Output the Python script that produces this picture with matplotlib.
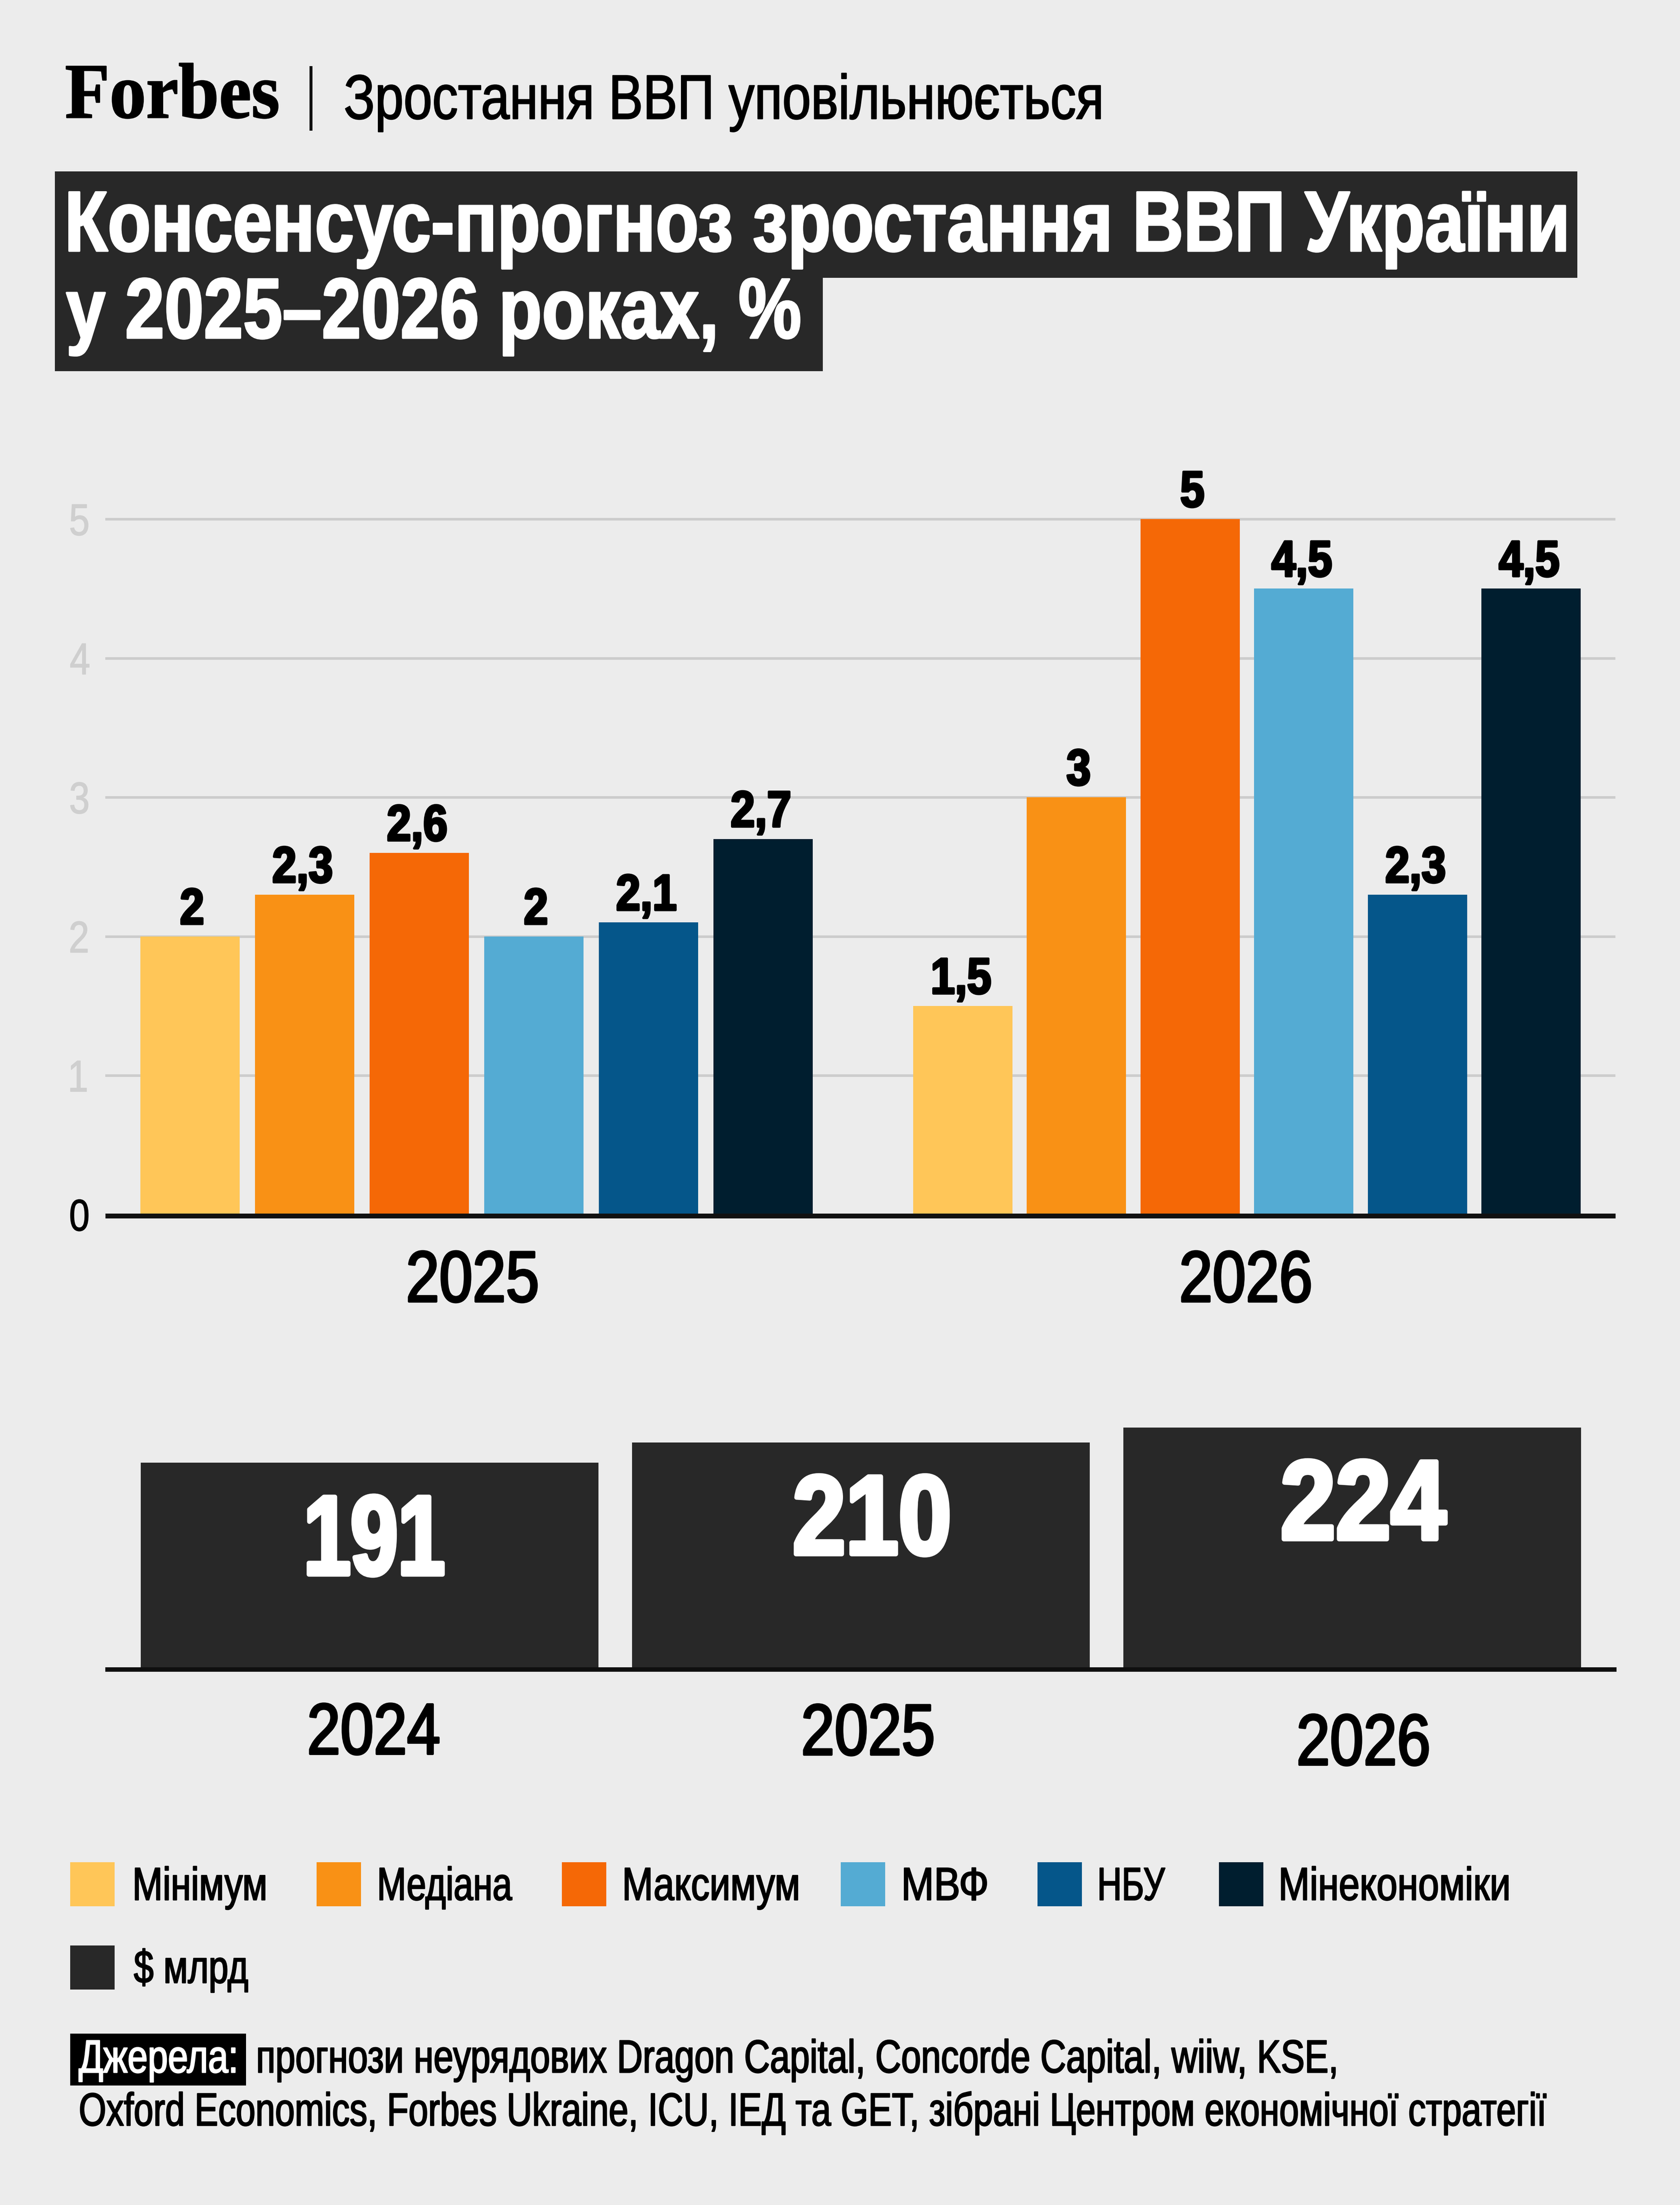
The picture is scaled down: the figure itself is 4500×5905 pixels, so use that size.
#!/usr/bin/env python3
import numpy as np
import matplotlib
matplotlib.use("Agg")
import matplotlib.pyplot as plt
from matplotlib.font_manager import FontProperties
from matplotlib.patches import Rectangle
from matplotlib.textpath import TextPath
from matplotlib.transforms import Affine2D
import matplotlib.patheffects as pe

W, H = 4500, 5905
DPI = 300
plt.rcParams["font.family"] = ["Liberation Sans"]

BG = "#ececec"
DARK = "#282828"

# data
groups = ["2025", "2026"]
series = ["Мінімум", "Медіана", "Максимум", "МВФ", "НБУ", "Мінекономіки"]
colors = ["#ffc658", "#f99115", "#f56806", "#54abd3", "#05568a", "#001e2f"]
growth_2025 = [2, 2.3, 2.6, 2, 2.1, 2.7]
growth_2026 = [1.5, 3, 5, 4.5, 2.3, 4.5]
gdp_years = ["2024", "2025", "2026"]
gdp_values = [191, 210, 224]
yticks = [0, 1, 2, 3, 4, 5]


def pt(px):
    # pixels of the final image to points
    return px * 72 / DPI


class Narrow(pe.AbstractPathEffect):
    # no condensed face is installed, so reshape the glyphs of the text
    def __init__(self, sx=None, width=None, anchor=0.0, stroke=0.0, sy=1.0):
        super().__init__()
        self.sx, self.width, self.anchor, self.stroke, self.sy = sx, width, anchor, stroke, sy

    def draw_path(self, renderer, gc, tpath, affine, rgbFace=None):
        ext = tpath.get_extents()
        sx = self.sx
        if self.width is not None:
            sx = (self.width - self.stroke) / tpath.get_extents(affine).width
        cx = ext.x0 + self.anchor * ext.width
        # left aligned text: the ink itself starts at the text position
        to = cx if self.anchor else 0
        squeeze = Affine2D().translate(-cx, 0).scale(sx, self.sy).translate(to, 0)
        gc0 = renderer.new_gc()
        gc0.copy_properties(gc)
        if self.stroke:
            gc0.set_foreground(rgbFace)
            gc0.set_linewidth(pt(self.stroke))
        renderer.draw_path(gc0, tpath, squeeze + affine, rgbFace)
        gc0.restore()


def comma(v):
    return f"{v:g}".replace(".", ",")


def axes_px(left, right, top, bottom):
    return fig.add_axes([left / W, 1 - bottom / H, (right - left) / W, (bottom - top) / H])


fig = plt.figure(figsize=(W / DPI, H / DPI), dpi=DPI, facecolor=BG)

# upper chart
y0, unit = 3252.5, 372.5
ax = axes_px(282, 4327, y0 - 5.5 * unit, y0)
ax.set_facecolor("none")
ax.set_ylim(0, 5.5)
centre_step = 2064.0
ax.set_xlim((282 - 1276) / centre_step, (4327 - 1276) / centre_step)
bar_w = 266 / centre_step
steps = [307 / centre_step, 304.5 / centre_step]
for g, vals in enumerate([growth_2025, growth_2026]):
    xs = g + (np.arange(6) - 2.5) * steps[g]
    ax.bar(xs, vals, width=bar_w, color=colors, linewidth=0)
    for x, v in zip(xs, vals):
        s = comma(v)
        ax.annotate(s, xy=(x, v), xytext=(pt(-5 if "," in s else 6), pt(33)), textcoords="offset points",
                    ha="center", va="baseline", fontsize=pt(136), fontweight="bold", color="black",
                    path_effects=[Narrow(sx=0.86, anchor=0.5, stroke=6)])

ax.set_axisbelow(True)
ax.yaxis.grid(True, color="#cccccc", linewidth=pt(7))
ax.xaxis.grid(False)
for s in ["top", "left", "right"]:
    ax.spines[s].set_visible(False)
ax.spines["bottom"].set_color("#111111")
ax.spines["bottom"].set_linewidth(pt(13))
ax.spines["bottom"].set_capstyle("butt")
ax.spines["bottom"].set_position(("outward", pt(3)))
ax.set_yticks(yticks, [str(t) for t in yticks])
ax.tick_params(axis="y", length=0, pad=pt(93), labelsize=pt(119), labelcolor="#cfcfcf")
for lab in ax.get_yticklabels():
    lab.set_ha("left")
    lab.set_path_effects([Narrow(sx=0.83, stroke=2)])
ax.get_yticklabels()[0].set_color("black")
ax.set_xticks([-0.005, -0.0015 + 1], groups)
ax.tick_params(axis="x", length=0, pad=pt(90), labelsize=pt(193), labelcolor="black")
for lab in ax.get_xticklabels():
    lab.set_path_effects([Narrow(width=348, anchor=0.5, stroke=6)])

# lower chart
y1, unit2 = 4465, 2.867
ax2 = axes_px(282, 4330, y1 - 260 * unit2, y1)
ax2.set_facecolor("none")
ax2.set_ylim(0, 260)
gdp_step = 1316.0
ax2.set_xlim((282 - 990) / gdp_step, (4330 - 990) / gdp_step)
xg = np.arange(len(gdp_values))
ax2.bar(xg, gdp_values, width=1226 / gdp_step, color=DARK, linewidth=0)
label_dx = [11, 30, 29]
label_w = [370, 418, 445]
for x, v, dx, lw in zip(xg, gdp_values, label_dx, label_w):
    ax2.annotate(str(v), xy=(x, v), xytext=(pt(dx), -pt(299)), textcoords="offset points",
                 ha="center", va="baseline", fontsize=pt(302), fontweight="bold", color="white",
                 path_effects=[Narrow(width=lw, anchor=0.5, stroke=12)])
for s in ["top", "left", "right"]:
    ax2.spines[s].set_visible(False)
ax2.yaxis.set_visible(False)
ax2.spines["bottom"].set_color("#0f0f0f")
ax2.spines["bottom"].set_linewidth(pt(12))
ax2.spines["bottom"].set_capstyle("butt")
ax2.spines["bottom"].set_position(("outward", pt(6)))
ax2.set_xticks(xg + np.array([0.008, 0.0144, 0.0228]), gdp_years)
ax2.tick_params(axis="x", length=0, labelsize=pt(193), labelcolor="black")
for tick, pad in zip(ax2.xaxis.get_major_ticks(), [86, 88, 115]):
    tick.set_pad(pt(pad))
    tick.label1.set_path_effects([Narrow(width=350, anchor=0.5, stroke=6)])

# everything outside the charts, in image pixels
ov = fig.add_axes([0, 0, 1, 1], zorder=5)
ov.set_xlim(0, W)
ov.set_ylim(H, 0)
ov.axis("off")


def box(x0, y0_, x1, y1_, color):
    ov.add_patch(Rectangle((x0, y0_), x1 - x0, y1_ - y0_, facecolor=color, edgecolor="none"))


def label(x, y, s, size, width, stroke=3, family="Liberation Sans", fontweight="normal", **kw):
    # pick the font size that gives the wanted width, then stretch up to the wanted height
    prop = FontProperties(family=family, weight=fontweight)
    ink = TextPath((0, 0), s, size=size, prop=prop).get_extents().width
    k = (width - stroke) / ink
    ov.text(x + stroke / 2, y, s, fontsize=pt(size * k), va="baseline", ha="left", family=family,
            fontweight=fontweight, path_effects=[Narrow(width=width, stroke=stroke, sy=1 / k)], **kw)


# header
label(176, 315, "Forbes", 210, 570, stroke=3, family="Liberation Serif", fontweight="bold", color="black")
ov.plot([833, 833], [177, 350], color="#111111", linewidth=pt(8), solid_capstyle="butt")
label(924, 318, "Зростання ВВП уповільнюється", 168, 2025, stroke=3, color="black")

# title
box(147, 744, 2204, 994, DARK)
box(147, 459, 4225, 744, DARK)
label(183, 672, "Консенсус-прогноз зростання ВВП України", 229, 4012, stroke=5, color="white", fontweight="bold")
label(176, 905, "у 2025–2026 роках, %", 229, 1968, stroke=5, color="white", fontweight="bold")

# legend
legend_names = series + ["$ млрд"]
legend_colors = colors + [DARK]
legend_w = [350, 357, 465, 223, 177, 610, 307]
swatch_x = [188, 848, 1505, 2252, 2779, 3265, 188]
text_x = [361, 1016, 1673, 2421, 2945, 3431, 358]
swatch_y = [4987] * 6 + [5210]
base_y = [5088] * 6 + [5310]
for name, c, w, sx, tx, sy, by in zip(legend_names, legend_colors, legend_w, swatch_x, text_x, swatch_y, base_y):
    box(sx, sy, sx + 119, sy + 118, c)
    label(tx, by, name.replace("$", r"\$"), 124, w, color="black")

# sources
box(188, 5446, 659, 5585, "black")
label(210, 5550, "Джерела:", 124, 421, color="white")
label(691, 5550, "прогнози неурядових Dragon Capital, Concorde Capital, wiiw, KSE,", 124, 2887, color="black")
label(214, 5692, "Oxford Economics, Forbes Ukraine, ICU, ІЕД та GET, зібрані Центром економічної стратегії",
      124, 3929, color="black")

fig.savefig("out.png", dpi=DPI, facecolor=BG)
